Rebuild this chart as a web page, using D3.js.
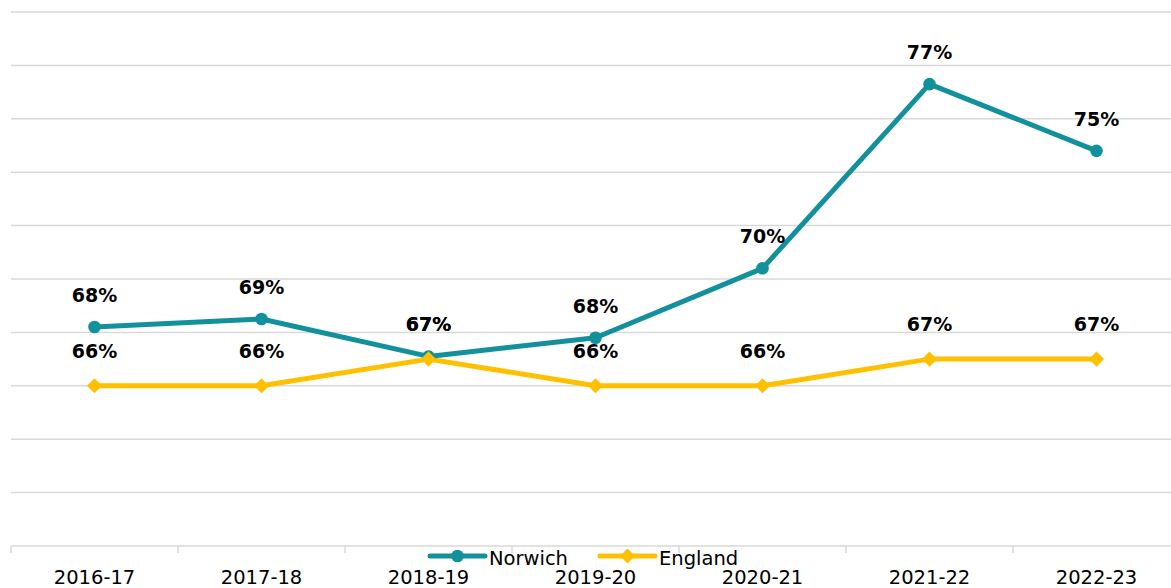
<!DOCTYPE html>
<html>
<head>
<meta charset="utf-8">
<script src="https://cdn.jsdelivr.net/npm/d3@7"></script>
<style>
  html, body { margin: 0; padding: 0; background: #fff; }
  svg { display: block; }
</style>
</head>
<body>
<svg id="chart" width="1171" height="588"></svg>
<script>
const categories = ["2016-17", "2017-18", "2018-19", "2019-20", "2020-21", "2021-22", "2022-23"];
const norwichValues = [68.2, 68.5, 67.1, 67.8, 70.4, 77.3, 74.8];
const englandValues = [66.0, 66.0, 67.0, 66.0, 66.0, 67.0, 67.0];
const seriesNames = ["Norwich", "England"];
const yTicks = [60, 62, 64, 66, 68, 70, 72, 74, 76, 78, 80];

const colors = { Norwich: "#12909B", England: "#FFC000" };

const svg = d3.select("#chart");
const W = 1171, H = 588;
const plot = { left: 11, right: 1180, top: 12, bottom: 546 };

const x = d3.scaleBand().domain(categories).range([plot.left, plot.right]).padding(0);
const xc = c => x(c) + x.bandwidth() / 2;
const y = d3.scaleLinear().domain([60, 80]).range([plot.bottom, plot.top]);

// gridlines
svg.append("g")
  .selectAll("line")
  .data(yTicks.slice(1))
  .join("line")
  .attr("x1", plot.left).attr("x2", W)
  .attr("y1", d => y(d)).attr("y2", d => y(d))
  .attr("stroke", "#d9d9d9").attr("stroke-width", 1.5);

// x axis
const xAxis = d3.axisBottom(x).tickSize(0).tickPadding(0);
const gx = svg.append("g").attr("transform", `translate(0,${plot.bottom})`).call(xAxis);
gx.select(".domain").remove();
gx.append("line").attr("x1", plot.left).attr("x2", W).attr("y1", 0).attr("y2", 0)
  .attr("stroke", "#d9d9d9").attr("stroke-width", 1.5);
const boundaries = categories.map(c => x(c)).concat([x(categories[categories.length-1]) + x.bandwidth()]);
gx.selectAll(".bound").data(boundaries).join("line").attr("class", "bound")
  .attr("x1", d => d).attr("x2", d => d).attr("y1", 0).attr("y2", 7)
  .attr("stroke", "#d9d9d9").attr("stroke-width", 1.5);
gx.selectAll(".tick text")
  .attr("y", 38).attr("dy", 0)
  .attr("font-family", "DejaVu Sans, sans-serif")
  .attr("font-size", 19.5).attr("fill", "#000");

const line = d3.line().x(d => xc(d.c)).y(d => y(d.v));

function seriesData(vals) { return categories.map((c, i) => ({ c, v: vals[i] })); }

const norwich = seriesData(norwichValues);
const england = seriesData(englandValues);

// England line
svg.append("path").datum(england).attr("d", line)
  .attr("fill", "none").attr("stroke", colors.England).attr("stroke-width", 5)
  .attr("stroke-linejoin", "round");
// Norwich line
svg.append("path").datum(norwich).attr("d", line)
  .attr("fill", "none").attr("stroke", colors.Norwich).attr("stroke-width", 5)
  .attr("stroke-linejoin", "round");

const diamond = d3.symbol().type(d3.symbolDiamond2).size(145);
svg.append("g").selectAll("circle").data(norwich).join("circle")
  .attr("cx", d => xc(d.c)).attr("cy", d => y(d.v)).attr("r", 6.3)
  .attr("fill", colors.Norwich);
svg.append("g").selectAll("path").data(england).join("path")
  .attr("d", diamond)
  .attr("transform", d => `translate(${xc(d.c)},${y(d.v)})`)
  .attr("fill", colors.England);

// labels
const fmt = v => Math.round(v) + "%";
svg.append("g").selectAll("text").data(england).join("text")
  .attr("x", d => xc(d.c)).attr("y", d => y(d.v) - 28)
  .attr("text-anchor", "middle")
  .attr("font-family", "DejaVu Sans, sans-serif").attr("font-weight", "bold")
  .attr("font-size", 19).attr("fill", "#000")
  .text(d => fmt(d.v));
svg.append("g").selectAll("text").data(norwich).join("text")
  .attr("x", d => xc(d.c)).attr("y", d => y(d.v) - 25)
  .attr("text-anchor", "middle")
  .attr("font-family", "DejaVu Sans, sans-serif").attr("font-weight", "bold")
  .attr("font-size", 19).attr("fill", "#000")
  .text(d => fmt(d.v));

// legend
const legend = svg.append("g");
const legendItems = [
  { name: seriesNames[0], x0: 430, shape: "circle" },
  { name: seriesNames[1], x0: 600, shape: "diamond" }
];
const ly = 556;
legendItems.forEach(it => {
  const g = legend.append("g");
  g.append("line").attr("x1", it.x0).attr("x2", it.x0 + 55).attr("y1", ly).attr("y2", ly)
    .attr("stroke", colors[it.name]).attr("stroke-width", 5).attr("stroke-linecap", "round");
  if (it.shape === "circle") {
    g.append("circle").attr("cx", it.x0 + 27.5).attr("cy", ly).attr("r", 6.3).attr("fill", colors[it.name]);
  } else {
    g.append("path").attr("d", diamond).attr("transform", `translate(${it.x0 + 27.5},${ly})`).attr("fill", colors[it.name]);
  }
  g.append("text").attr("x", it.x0 + 59).attr("y", ly + 9)
    .attr("font-family", "DejaVu Sans, sans-serif").attr("font-size", 19.5).attr("fill", "#000")
    .text(it.name);
});
</script>
</body>
</html>
